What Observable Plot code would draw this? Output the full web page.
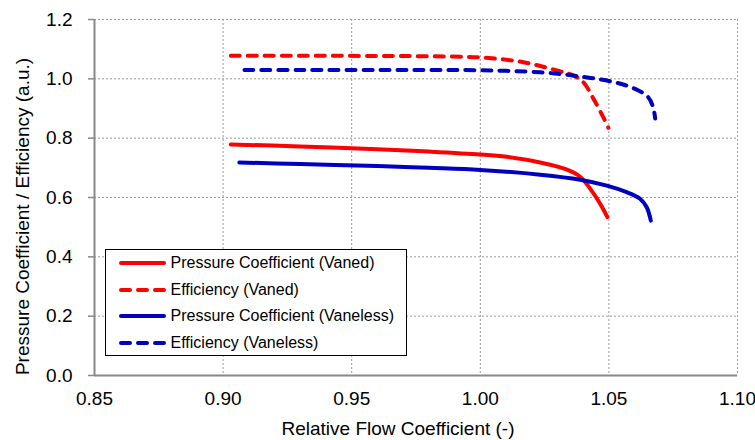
<!DOCTYPE html>
<html><head><meta charset="utf-8">
<script src="https://cdn.jsdelivr.net/npm/d3@7"></script>
<script src="https://cdn.jsdelivr.net/npm/@observablehq/plot@0.6"></script>
<style>
body{margin:0;background:#fff;font-family:Arial,"Liberation Sans",sans-serif;}
#wrap{position:relative;width:755px;height:440px;}
#legend{position:absolute;left:105px;top:249px;width:302px;height:107px;border:1.5px solid #000;background:#fff;box-sizing:border-box;}
.row{display:flex;align-items:center;height:26.6px;font-size:16px;color:#000;white-space:nowrap;}
.row svg{margin-left:12.5px;margin-right:5px;flex:none;}
</style>
</head><body>
<div id="wrap"></div>
<script>
// ---- data ----
const xTicks = [0.85, 0.90, 0.95, 1.00, 1.05, 1.10];
const yTicks = [0.0, 0.2, 0.4, 0.6, 0.8, 1.0, 1.2];

const seriesNames = ["Pressure Coefficient (Vaned)", "Efficiency (Vaned)", "Pressure Coefficient (Vaneless)", "Efficiency (Vaneless)"];
const seriesColors = ["#ff0000", "#ff0000", "#0000c0", "#0000c0"];
const seriesDashed = [false, true, false, true];

const vanedFlowP    = [0.903, 0.93, 0.96, 0.98, 1.00, 1.0103, 1.0233, 1.0337, 1.0388, 1.0427, 1.0466, 1.0494];
const vanedPressure = [0.779, 0.772, 0.763, 0.755, 0.745, 0.737, 0.718, 0.694, 0.670, 0.630, 0.579, 0.534];
const vanedFlowE    = [0.903, 0.93, 0.96, 0.98, 1.00, 1.0168, 1.0298, 1.0362, 1.0401, 1.0440, 1.0478, 1.0498];
const vanedEff      = [1.078, 1.078, 1.077, 1.076, 1.072, 1.056, 1.028, 1.011, 0.988, 0.933, 0.871, 0.835];

const vanelessFlowP    = [0.9063, 0.93, 0.96, 0.98, 1.00, 1.0233, 1.0388, 1.0492, 1.0569, 1.0621, 1.0647, 1.0663];
const vanelessPressure = [0.718, 0.713, 0.706, 0.700, 0.693, 0.677, 0.660, 0.640, 0.618, 0.596, 0.567, 0.522];
const vanelessFlowE    = [0.9083, 0.93, 0.96, 0.98, 1.00, 1.0233, 1.0388, 1.0524, 1.0602, 1.0653, 1.0672, 1.0680];
const vanelessEff      = [1.030, 1.030, 1.030, 1.030, 1.029, 1.022, 1.008, 0.988, 0.966, 0.938, 0.904, 0.866];

const xLabel = "Relative Flow Coefficient (-)";
const yLabel = "Pressure Coefficient / Efficiency (a.u.)";

// ---- build tables ----
const seriesX = [vanedFlowP, vanedFlowE, vanelessFlowP, vanelessFlowE];
const seriesY = [vanedPressure, vanedEff, vanelessPressure, vanelessEff];
const rows = [];
seriesNames.forEach((name, s) => {
  seriesX[s].forEach((x, i) => rows.push({series: name, s, x, y: seriesY[s][i]}));
});

const font = 'Arial, "Liberation Sans", sans-serif';
const gridStyle = {stroke: "#9a9a9a", strokeOpacity: 1, strokeWidth: 1, strokeDasharray: "2,2"};

const lineMarks = seriesNames.map((name, s) =>
  Plot.line(rows.filter(d => d.s === s), {
    x: "x", y: "y", stroke: seriesColors[s], strokeWidth: 4,
    strokeLinecap: "round", strokeLinejoin: "round",
    strokeDasharray: seriesDashed[s] ? "9,8" : null,
    curve: "catmull-rom"
  })
);

const chart = Plot.plot({
  width: 755, height: 440,
  marginLeft: 94, marginRight: 18, marginTop: 19, marginBottom: 65,
  style: {fontFamily: font, fontSize: "19px", color: "#000", background: "white", overflow: "visible"},
  x: {domain: [0.85, 1.10]},
  y: {domain: [0, 1.2]},
  marks: [
    Plot.gridX(xTicks, gridStyle),
    Plot.gridY(yTicks, gridStyle),
    Plot.axisX(xTicks, {tickSize: 0, tickPadding: 16, label: null, fontSize: 19, tickFormat: d => d.toFixed(2)}),
    Plot.axisY(yTicks, {tickSize: 6, tickPadding: 16, label: null, fontSize: 19, stroke: "#888", strokeWidth: 1.5, tickFormat: d => d.toFixed(1)}),
    Plot.ruleX([0.85], {stroke: "#888", strokeWidth: 2}),
    Plot.ruleY([0], {stroke: "#888", strokeWidth: 2}),
    ...lineMarks,
    Plot.text([xLabel], {text: d => d, frameAnchor: "bottom", dx: -18, dy: 53, fontSize: 19, textAnchor: "middle", lineAnchor: "middle", fill: "#000"}),
    Plot.text([yLabel], {text: d => d, frameAnchor: "left", rotate: -90, dx: -72, dy: 19, fontSize: 19, textAnchor: "middle", lineAnchor: "middle", fill: "#000"})
  ]
});

const wrap = document.getElementById("wrap");
wrap.appendChild(chart);

// ---- legend (inside plot area, like the reference) ----
const legend = document.createElement("div");
legend.id = "legend";
seriesNames.forEach((name, s) => {
  const row = document.createElement("div");
  row.className = "row";
  const dash = seriesDashed[s] ? ' stroke-dasharray="9,8"' : "";
  row.innerHTML = `<svg width="47" height="8"><line x1="2" y1="4" x2="45" y2="4" stroke="${seriesColors[s]}" stroke-width="4" stroke-linecap="round"${dash}/></svg><span>${name}</span>`;
  legend.appendChild(row);
});
wrap.appendChild(legend);
</script>
</body></html>
